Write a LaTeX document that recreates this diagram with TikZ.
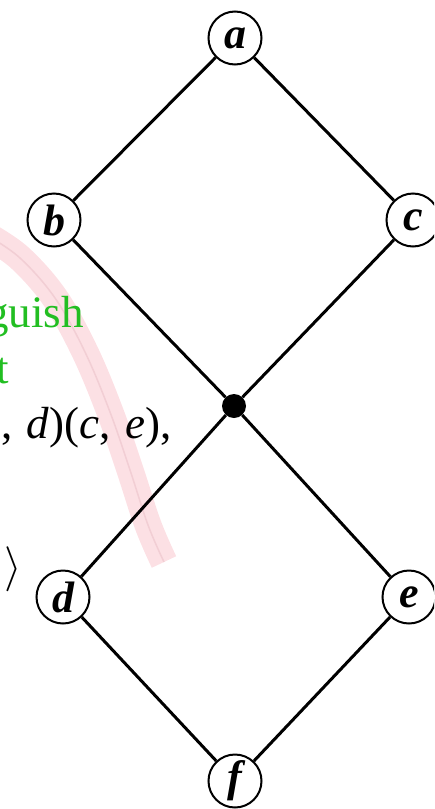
\documentclass[tikz,border=0pt]{standalone}
\usepackage{fontspec}
\usepackage{graphicx}
\setmainfont{Liberation Serif}
\definecolor{bandpink}{RGB}{252,224,228}
\definecolor{bandline}{RGB}{242,206,212}
\definecolor{fraggreen}{RGB}{34,190,34}
\begin{document}
\begin{tikzpicture}[x=1pt,y=-1pt,
  vert/.style={circle,draw,line width=2pt,minimum size=53pt,inner sep=0pt,
    font=\fontsize{44}{44}\selectfont\bfseries\itshape},
  hub/.style={circle,fill=black,minimum size=24pt,inner sep=0pt},
  edge/.style={line width=3pt},
  frag/.style={inner sep=0pt,font=\fontsize{45}{45}\selectfont},
  band/.style={line width=27pt,draw=bandpink,line cap=butt},
  bandmid/.style={line width=1.5pt,draw=bandline,line cap=butt}]
\useasboundingbox (0,0) rectangle (434,809);
\clip (0,0) rectangle (434,809);
% faint background band
\draw[band] plot[smooth,tension=0.6] coordinates {(-12,236) (20,258) (55,298) (85,352) (110,412) (130,470) (148,525) (164,562)};
\draw[bandmid] plot[smooth,tension=0.6] coordinates {(-12,236) (20,258) (55,298) (85,352) (110,412) (130,470) (148,525) (164,562)};
% text fragments
\node[frag,text=fraggreen,anchor=base east] (t1) at (84,327) {guish};
\node[frag,text=fraggreen,anchor=base east] (t2) at (9,383) {t};
\node[frag,anchor=base west] (t3) at (1,438) {,\hspace{0.32em}\textit{d})(\textit{c},\hspace{0.32em}\textit{e}),};
\node[inner sep=0pt] (t4) at (13,569) {\scalebox{4.5}{$\rangle$}};
% graph
\node[vert] (a) at (235,38) {a};
\node[vert] (b) at (54,220) {b};
\node[vert] (c) at (413,220) {c};
\node[hub] (m) at (234,406) {};
\node[vert] (d) at (63,597) {d};
\node[vert] (e) at (409,597) {e};
\node[vert] (f) at (235,781) {f};
\draw[edge] (a) -- (b);
\draw[edge] (a) -- (c);
\draw[edge] (b) -- (m);
\draw[edge] (c) -- (m);
\draw[edge] (m) -- (d);
\draw[edge] (m) -- (e);
\draw[edge] (d) -- (f);
\draw[edge] (e) -- (f);
\end{tikzpicture}
\end{document}
